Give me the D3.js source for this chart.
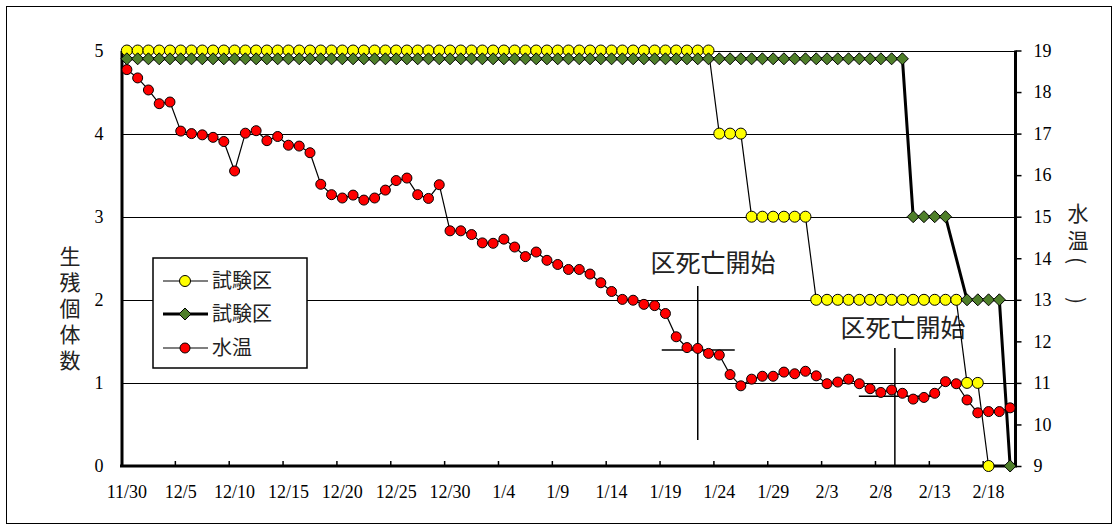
<!DOCTYPE html>
<html>
<head>
<meta charset="utf-8">
<script src="https://cdn.jsdelivr.net/npm/d3@7"></script>
<style>
  html, body { margin: 0; padding: 0; background: #fff; }
  svg { display: block; }
  .num { font-family: "Liberation Serif", "Times New Roman", serif; font-size: 18px; fill: #000; }
  .jp { font-family: "Noto Sans CJK JP", "Noto Sans", sans-serif; fill: #222; }
  .vert { writing-mode: vertical-rl; }
</style>
</head>
<body>
<svg id="chart" width="1118" height="530"></svg>
<script>
// Daily categories, 11/30 through 2/20
const dates = [
  "11/30","12/1","12/2","12/3","12/4","12/5","12/6","12/7","12/8","12/9",
  "12/10","12/11","12/12","12/13","12/14","12/15","12/16","12/17","12/18","12/19",
  "12/20","12/21","12/22","12/23","12/24","12/25","12/26","12/27","12/28","12/29",
  "12/30","12/31","1/1","1/2","1/3","1/4","1/5","1/6","1/7","1/8",
  "1/9","1/10","1/11","1/12","1/13","1/14","1/15","1/16","1/17","1/18",
  "1/19","1/20","1/21","1/22","1/23","1/24","1/25","1/26","1/27","1/28",
  "1/29","1/30","1/31","2/1","2/2","2/3","2/4","2/5","2/6","2/7",
  "2/8","2/9","2/10","2/11","2/12","2/13","2/14","2/15","2/16","2/17",
  "2/18","2/19","2/20"
];

// Labels shown on the date axis (every fifth day)
const tickLabels = ["11/30","12/5","12/10","12/15","12/20","12/25","12/30","1/4","1/9",
  "1/14","1/19","1/24","1/29","2/3","2/8","2/13","2/18"];

// Survivors, plot 1 (yellow circles)
const survivorsA = [
  5,5,5,5,5,5,5,5,5,5, 5,5,5,5,5,5,5,5,5,5,
  5,5,5,5,5,5,5,5,5,5, 5,5,5,5,5,5,5,5,5,5,
  5,5,5,5,5,5,5,5,5,5, 5,5,5,5,5,4,4,4,3,3,
  3,3,3,3,2,2,2,2,2,2, 2,2,2,2,2,2,2,2,1,1,
  0,null,null
];

// Survivors, plot 2 (green diamonds)
const survivorsB = [
  4.9,4.9,4.9,4.9,4.9,4.9,4.9,4.9,4.9,4.9, 4.9,4.9,4.9,4.9,4.9,4.9,4.9,4.9,4.9,4.9,
  4.9,4.9,4.9,4.9,4.9,4.9,4.9,4.9,4.9,4.9, 4.9,4.9,4.9,4.9,4.9,4.9,4.9,4.9,4.9,4.9,
  4.9,4.9,4.9,4.9,4.9,4.9,4.9,4.9,4.9,4.9, 4.9,4.9,4.9,4.9,4.9,4.9,4.9,4.9,4.9,4.9,
  4.9,4.9,4.9,4.9,4.9,4.9,4.9,4.9,4.9,4.9, 4.9,4.9,4.9,3,3,3,3,null,2,2,
  2,2,0
];

// Water temperature (°C)
const waterTemp = [
  18.54,18.34,18.05,17.72,17.76,17.06,17.00,16.97,16.91,16.81,
  16.10,17.01,17.07,16.83,16.93,16.72,16.70,16.54,15.78,15.53,
  15.45,15.52,15.40,15.45,15.64,15.87,15.93,15.53,15.44,15.77,
  14.66,14.66,14.57,14.37,14.36,14.46,14.27,14.04,14.15,13.95,
  13.85,13.73,13.73,13.62,13.41,13.20,13.01,12.99,12.89,12.86,
  12.67,12.11,11.85,11.83,11.71,11.67,11.20,10.93,11.09,11.16,
  11.16,11.26,11.22,11.28,11.17,10.98,11.02,11.09,10.98,10.86,
  10.77,10.83,10.75,10.61,10.65,10.75,11.03,10.98,10.59,10.28,
  10.31,10.31,10.40
];

const leftTicks = [0,1,2,3,4,5];
const rightTicks = [9,10,11,12,13,14,15,16,17,18,19];
const legendNames = ["試験区","試験区","水温"];
const noteText = "区死亡開始";
// Crosshair positions for the onset notes: day index and temperature level
const noteDays = [53, 71.3];
const noteTemps = [11.79, 10.68];

const svg = d3.select("#chart");

// Outer frame
svg.append("rect").attr("x", 6.5).attr("y", 6.5).attr("width", 1105).attr("height", 517)
  .attr("fill", "#fff").attr("stroke", "#000").attr("stroke-width", 1);

const plot = { left: 121.5, right: 1015.5, top: 50.5, bottom: 466 };

const x = d3.scaleBand().domain(dates).range([plot.left, plot.right]).paddingInner(0).paddingOuter(0);
const cx = d => x(d) + x.bandwidth() / 2;
const xDay = d3.scaleLinear().domain([0, dates.length - 1]).range([cx(dates[0]), cx(dates[dates.length - 1])]);
const yL = d3.scaleLinear().domain([0, 5]).range([plot.bottom, plot.top]);
const yR = d3.scaleLinear().domain([9, 19]).range([plot.bottom, plot.top]);

// Horizontal gridlines
svg.append("g").selectAll("line").data(leftTicks.filter(v => v > 0)).join("line")
  .attr("x1", plot.left).attr("x2", plot.right)
  .attr("y1", d => Math.round(yL(d)) + 0.5).attr("y2", d => Math.round(yL(d)) + 0.5)
  .attr("stroke", "#000").attr("stroke-width", 1.2);

// Left axis
const axL = svg.append("g").attr("transform", `translate(${plot.left},0)`)
  .call(d3.axisLeft(yL).tickValues(leftTicks).tickSize(0).tickPadding(18).tickFormat(d3.format("d")));
axL.select(".domain").attr("stroke-width", 3);
axL.selectAll("text").attr("class", "num").attr("font-size", null).attr("font-family", null);

// Right axis
const axR = svg.append("g").attr("transform", `translate(${plot.right},0)`)
  .call(d3.axisRight(yR).tickValues(rightTicks).tickSize(6).tickPadding(12).tickFormat(d3.format("d")));
axR.select(".domain").attr("stroke-width", 3).attr("d", `M0,${plot.top}V${plot.bottom}`);
axR.selectAll(".tick line").attr("stroke-width", 1.5);
axR.selectAll("text").attr("class", "num").attr("font-size", null).attr("font-family", null);

// Bottom axis: ticks every five days, pointing into the plot
const boundaries = dates.filter((d, i) => i % 5 === 0 && i > 0);
svg.append("g").selectAll("line").data(boundaries).join("line")
  .attr("x1", d => x(d)).attr("x2", d => x(d))
  .attr("y1", plot.bottom).attr("y2", plot.bottom - 5)
  .attr("stroke", "#000").attr("stroke-width", 1.5);
svg.append("line").attr("x1", plot.left - 1.5).attr("x2", plot.right + 1.5)
  .attr("y1", plot.bottom).attr("y2", plot.bottom).attr("stroke", "#000").attr("stroke-width", 3);
svg.append("g").selectAll("text").data(tickLabels).join("text")
  .attr("class", "num").attr("x", d => cx(d)).attr("y", 498).attr("text-anchor", "middle")
  .text(d => d);

// Axis titles, written vertically
svg.append("text").attr("class", "jp vert").attr("font-size", 21)
  .attr("x", 70).attr("y", 246).attr("letter-spacing", 5).text("生残個体数");
svg.append("text").attr("class", "jp vert").attr("font-size", 21)
  .attr("x", 1078).attr("y", 203).attr("letter-spacing", 6).text("水温(　)");

// Annotations: onset of deaths
const noteG = svg.append("g");
const noteSpan = [[286, 440], [348, plot.bottom]];
noteDays.forEach((d, k) => {
  const px = xDay(d), py = yR(noteTemps[k]);
  noteG.append("line").attr("x1", px - 36).attr("x2", px + 37).attr("y1", py).attr("y2", py)
    .attr("stroke", "#000").attr("stroke-width", 1.5);
  noteG.append("line").attr("x1", px).attr("x2", px)
    .attr("y1", noteSpan[k][0]).attr("y2", noteSpan[k][1])
    .attr("stroke", "#000").attr("stroke-width", 1.5);
});
noteG.append("text").attr("class", "jp").attr("font-size", 25).attr("x", 713).attr("y", 272)
  .attr("text-anchor", "middle").text(noteText);
noteG.append("text").attr("class", "jp").attr("font-size", 25).attr("x", 903).attr("y", 337)
  .attr("text-anchor", "middle").text(noteText);

// Series
const idx = d3.range(dates.length);
const lineL = vals => d3.line().x(i => cx(dates[i])).y(i => yL(vals[i]))(idx.filter(i => vals[i] != null));
const lineR = vals => d3.line().x(i => cx(dates[i])).y(i => yR(vals[i]))(idx.filter(i => vals[i] != null));

const diamond = r => `M0,${-r}L${r},0L0,${r}L${-r},0Z`;

// Plot 1
svg.append("path").attr("d", lineL(survivorsA)).attr("fill", "none").attr("stroke", "#000").attr("stroke-width", 1.2);
svg.append("g").selectAll("circle").data(idx.filter(i => survivorsA[i] != null)).join("circle")
  .attr("cx", i => cx(dates[i])).attr("cy", i => yL(survivorsA[i])).attr("r", 5.5)
  .attr("fill", "#ffff00").attr("stroke", "#000").attr("stroke-width", 1);

// Plot 2
svg.append("path").attr("d", lineL(survivorsB)).attr("fill", "none").attr("stroke", "#000").attr("stroke-width", 3);
svg.append("g").selectAll("path").data(idx.filter(i => survivorsB[i] != null)).join("path")
  .attr("transform", i => `translate(${cx(dates[i])},${yL(survivorsB[i])})`).attr("d", diamond(6))
  .attr("fill", "#4f7f2a").attr("stroke", "#000").attr("stroke-width", 1);

// Water temperature
svg.append("path").attr("d", lineR(waterTemp)).attr("fill", "none").attr("stroke", "#000").attr("stroke-width", 1.2);
svg.append("g").selectAll("circle").data(idx).join("circle")
  .attr("cx", i => cx(dates[i])).attr("cy", i => yR(waterTemp[i])).attr("r", 5)
  .attr("fill", "#ff0000").attr("stroke", "#000").attr("stroke-width", 1);

// Legend
const lg = svg.append("g").attr("transform", "translate(153,258)");
lg.append("rect").attr("width", 154).attr("height", 110).attr("fill", "#fff")
  .attr("stroke", "#000").attr("stroke-width", 1.5);
const legendRows = [
  { y: 23, w: 1.2, marker: "circle", fill: "#ffff00" },
  { y: 56, w: 3, marker: "diamond", fill: "#4f7f2a" },
  { y: 90, w: 1.2, marker: "circle", fill: "#ff0000" }
];
legendRows.forEach((r, k) => {
  lg.append("line").attr("x1", 10).attr("x2", 55).attr("y1", r.y).attr("y2", r.y)
    .attr("stroke", "#000").attr("stroke-width", r.w);
  if (r.marker === "circle") {
    lg.append("circle").attr("cx", 32).attr("cy", r.y).attr("r", k === 0 ? 5.5 : 5)
      .attr("fill", r.fill).attr("stroke", "#000");
  } else {
    lg.append("path").attr("transform", `translate(32,${r.y})`).attr("d", diamond(6))
      .attr("fill", r.fill).attr("stroke", "#000");
  }
  lg.append("text").attr("class", "jp").attr("font-size", 20).attr("x", 59).attr("y", r.y + 7)
    .text(legendNames[k]);
});
</script>
</body>
</html>
